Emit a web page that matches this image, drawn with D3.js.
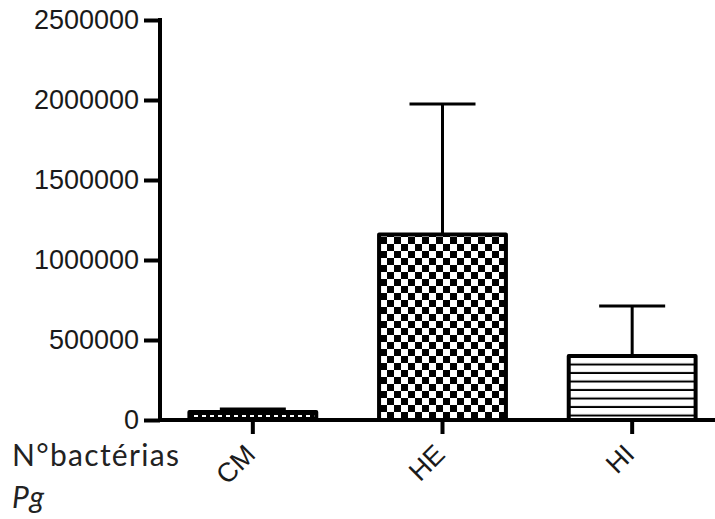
<!DOCTYPE html>
<html>
<head>
<meta charset="utf-8">
<script src="https://cdn.jsdelivr.net/npm/d3@7"></script>
<style>
  html, body { margin: 0; padding: 0; background: #fff; }
  svg { display: block; }
</style>
</head>
<body>
<svg id="chart" width="715" height="519"></svg>
<script>
// Bacterial counts (Pg) per group: mean and upper error bar
const categories = ["CM", "HE", "HI"];
const means = [50000, 1160000, 400000];
const errorTops = [68000, 1975000, 712000];
const yTicks = [0, 500000, 1000000, 1500000, 2000000, 2500000];
const fills = ["url(#dash)", "url(#checker)", "url(#hlines)"];

const svg = d3.select("#chart");
const ink = "#000";

const y = d3.scaleLinear().domain([0, 2500000]).range([420, 20]);
const x = d3.scaleBand().domain(categories).range([158, 727]).paddingInner(0.31).paddingOuter(0.155);

// fill patterns
const defs = svg.append("defs");
const checker = defs.append("pattern").attr("id", "checker")
  .attr("patternUnits", "userSpaceOnUse").attr("width", 14).attr("height", 14)
  .attr("x", 380).attr("y", 237);
checker.append("rect").attr("width", 14).attr("height", 14).attr("fill", "#fff");
checker.append("rect").attr("width", 7).attr("height", 7).attr("fill", ink);
checker.append("rect").attr("x", 7).attr("y", 7).attr("width", 7).attr("height", 7).attr("fill", ink);

const hl = defs.append("pattern").attr("id", "hlines")
  .attr("patternUnits", "userSpaceOnUse").attr("width", 10).attr("height", 8.5)
  .attr("y", 357);
hl.append("rect").attr("width", 10).attr("height", 8.5).attr("fill", "#fff");
hl.append("rect").attr("y", 6.5).attr("width", 10).attr("height", 2).attr("fill", ink);

const dash = defs.append("pattern").attr("id", "dash")
  .attr("patternUnits", "userSpaceOnUse").attr("width", 8).attr("height", 8).attr("y", 412);
dash.append("rect").attr("width", 8).attr("height", 8).attr("fill", ink);
dash.append("rect").attr("x", 2).attr("y", 3).attr("width", 4).attr("height", 2).attr("fill", "#fff");

const rows = categories.map((c, i) => ({ c, m: means[i], e: errorTops[i], f: fills[i] }));

// error bars (drawn first so the bar outline covers the stem base)
const eb = svg.append("g").attr("stroke", ink).attr("stroke-width", 3);
rows.forEach(d => {
  const cx = x(d.c) + x.bandwidth() / 2;
  eb.append("line").attr("x1", cx).attr("x2", cx).attr("y1", y(d.e)).attr("y2", y(d.m));
  eb.append("line").attr("x1", cx - 33).attr("x2", cx + 33).attr("y1", y(d.e)).attr("y2", y(d.e));
});

// bars
svg.append("g").selectAll("rect").data(rows).join("rect")
  .attr("x", d => x(d.c) + 2)
  .attr("y", d => y(d.m))
  .attr("width", x.bandwidth() - 4)
  .attr("height", d => y(0) - y(d.m))
  .attr("fill", d => d.f)
  .attr("stroke", ink)
  .attr("stroke-width", 4)
  .attr("stroke-linejoin", "round");

// y axis
const yAxis = svg.append("g").attr("transform", "translate(160,0)")
  .call(d3.axisLeft(y).tickValues(yTicks).tickFormat(d3.format("d")).tickSize(16).tickPadding(5).tickSizeOuter(0));
yAxis.select(".domain").attr("stroke", ink).attr("stroke-width", 4).attr("d", "M0,18V422");
yAxis.selectAll(".tick line").attr("stroke", ink).attr("stroke-width", 4);
yAxis.selectAll(".tick text")
  .attr("fill", "#1a1a1a")
  .style("font-family", "'Liberation Sans', Arial, sans-serif")
  .style("font-size", "27px");

// x axis
const xAxis = svg.append("g").attr("transform", "translate(0,420)")
  .call(d3.axisBottom(x).tickSize(14).tickSizeOuter(0).tickPadding(4));
xAxis.select(".domain").attr("stroke", ink).attr("stroke-width", 4).attr("d", "M158,0H715");
xAxis.selectAll(".tick line").attr("stroke", ink).attr("stroke-width", 4);
xAxis.selectAll(".tick text")
  .attr("fill", "#1a1a1a")
  .style("font-family", "'Liberation Sans', Arial, sans-serif")
  .style("font-size", "27px")
  .attr("text-anchor", "end")
  .attr("dy", null)
  .attr("y", 0)
  .attr("transform", "translate(4,36) rotate(-45)");

// row label
const lab = svg.append("g").attr("fill", "#222")
  .style("font-family", "Lato, 'Open Sans', sans-serif").style("font-size", "30px")
  .style("letter-spacing", "1.3px");
lab.append("text").attr("x", 12).attr("y", 466).text("N°bactérias");
lab.append("text").attr("x", 12).attr("y", 508).style("font-style", "italic").text("Pg");
</script>
</body>
</html>
